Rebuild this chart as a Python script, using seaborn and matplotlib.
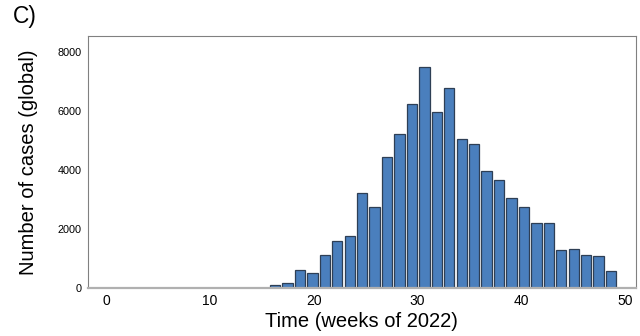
import matplotlib
matplotlib.use("Agg")
import matplotlib.pyplot as plt
import pandas as pd
import seaborn as sns

# Weekly case counts (binned)
weeks = [15.08, 16.28, 17.48, 18.68, 19.88, 21.08, 22.28, 23.48, 24.68, 25.88,
         27.08, 28.28, 29.48, 30.68, 31.88, 33.08, 34.28, 35.48, 36.68, 37.88,
         39.08, 40.28, 41.48, 42.68, 43.88, 45.08, 46.28, 47.48, 48.68]
cases = [15, 102, 170, 598, 519, 1120, 1596, 1765, 3225, 2750,
         4424, 5215, 6223, 7490, 5941, 6756, 5035, 4865, 3948, 3667,
         3042, 2726, 2207, 2183, 1300, 1334, 1120, 1086, 587]
x_ticks = [0, 10, 20, 30, 40, 50]
y_ticks = [0, 2000, 4000, 6000, 8000]

sns.set_style("white")
plt.rcParams["font.family"] = ["Liberation Sans", "DejaVu Sans"]
plt.rcParams["text.color"] = "black"
plt.rcParams["axes.labelcolor"] = "black"
plt.rcParams["xtick.color"] = "black"
plt.rcParams["ytick.color"] = "black"

df = pd.DataFrame({"week": weeks, "cases": cases})

fig = plt.figure(figsize=(6.4, 3.36), dpi=100)
ax = fig.add_axes([0.137, 0.143, 0.857, 0.75])

sns.barplot(data=df, x="week", y="cases", native_scale=True, width=0.83,
            color="#4a7fbd", saturation=1, errorbar=None,
            edgecolor="#2e3f55", linewidth=0.9, ax=ax)

ax.set_xlim(-1.78, 51.1)
ax.set_ylim(0, 8530)
ax.set_xticks(x_ticks)
ax.set_yticks(y_ticks)
ax.set_xticklabels([str(t) for t in x_ticks], fontsize=10)
ax.set_yticklabels([str(t) for t in y_ticks], fontsize=7.8)
ax.tick_params(axis="x", direction="in", length=3.6, width=0.8, color="#808080", pad=4)
ax.tick_params(axis="y", direction="out", length=3, width=0.8, color="#808080", pad=1.5)

for side in ["top", "right", "left"]:
    ax.spines[side].set_color("#808080")
    ax.spines[side].set_linewidth(0.8)
ax.spines["bottom"].set_color("#b0b0b0")
ax.spines["bottom"].set_linewidth(1.6)

ax.set_xlabel("Time (weeks of 2022)", fontsize=14.5, labelpad=3)
ax.set_ylabel("Number of cases (global)", fontsize=14.5, labelpad=14)

fig.text(0.02, 0.985, "C)", fontsize=16.4, va="top", ha="left")

fig.savefig("out.png", dpi=100)
